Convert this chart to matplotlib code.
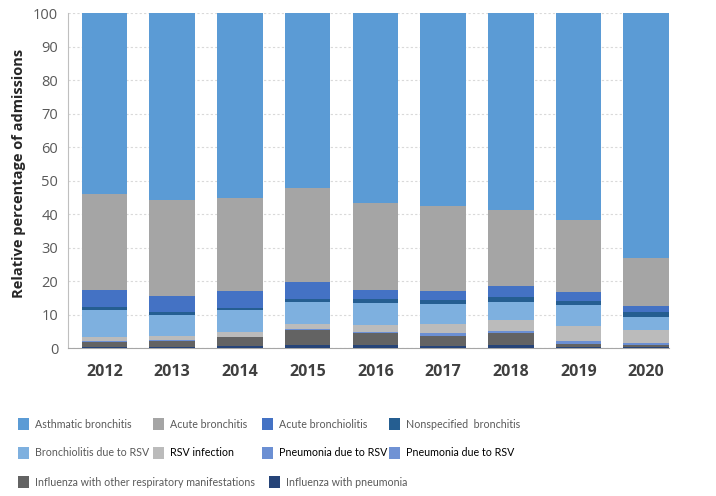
import numpy as np
import matplotlib
matplotlib.use("Agg")
import matplotlib.pyplot as plt
from matplotlib.patches import Rectangle

# === Data (% of admissions) ===
years = ["2012", "2013", "2014", "2015", "2016", "2017", "2018", "2019", "2020"]

influenza_pneumonia = [0.5, 0.4, 0.8, 1.1, 1.1, 0.8, 1.0, 0.4, 0.4]
influenza_other = [1.5, 1.9, 2.5, 4.3, 3.4, 3.0, 3.5, 0.9, 0.6]
pneumonia_rsv = [0.2, 0.3, 0.2, 0.4, 0.4, 0.7, 0.6, 0.9, 0.7]
pneumonia_rsv_2 = [0.0, 0.0, 0.0, 0.0, 0.0, 0.0, 0.0, 0.0, 0.0]
rsv_infection = [1.3, 1.0, 1.4, 1.5, 2.1, 2.8, 3.4, 4.5, 3.8]
bronchiolitis_rsv = [7.8, 6.2, 6.4, 6.6, 6.5, 5.9, 5.4, 6.2, 3.7]
nonspecified_bronchitis = [0.9, 0.9, 0.8, 0.8, 1.2, 1.3, 1.4, 1.1, 1.5]
acute_bronchiolitis = [5.3, 5.0, 5.1, 5.0, 2.8, 2.7, 3.2, 2.9, 1.8]
acute_bronchitis = [28.5, 28.5, 27.6, 28.1, 26.0, 25.2, 22.9, 21.3, 14.4]
asthmatic_bronchitis = [54.0, 55.8, 55.2, 52.2, 56.5, 57.6, 58.6, 61.8, 73.1]

# bottom -> top
series = [
    ("Influenza with pneumonia", influenza_pneumonia, "#264478"),
    ("Influenza with other respiratory manifestations", influenza_other, "#636363"),
    ("Pneumonia due to RSV", pneumonia_rsv, "#6B8FD3"),
    ("Pneumonia due to RSV", pneumonia_rsv_2, "#7092D4"),
    ("RSV infection", rsv_infection, "#BBBBBB"),
    ("Bronchiolitis due to RSV", bronchiolitis_rsv, "#7EB0DF"),
    ("Nonspecified  bronchitis", nonspecified_bronchitis, "#255E91"),
    ("Acute bronchiolitis", acute_bronchiolitis, "#4472C4"),
    ("Acute bronchitis", acute_bronchitis, "#A5A5A5"),
    ("Asthmatic bronchitis", asthmatic_bronchitis, "#5B9BD5"),
]

plt.rcParams["font.family"] = ["Open Sans", "DejaVu Sans"]

W, H = 716, 496
fig = plt.figure(figsize=(W / 100, H / 100), dpi=100)
ax = fig.add_axes([68 / W, (H - 348.3) / H, (669 - 68) / W, (348.3 - 13.3) / H])

x = np.arange(len(years))
bottom = np.zeros(len(years))
for name, vals, col in series:
    vals = np.array(vals)
    ax.bar(x, vals, width=0.674, bottom=bottom, color=col, linewidth=0, zorder=3)
    bottom += vals

ax.set_xlim(-0.539, 8.337)
ax.set_ylim(0, 100)
ax.set_yticks(np.arange(0, 101, 10))
ax.yaxis.grid(True, linestyle=(0, (2, 2)), color="#D9D9D9", linewidth=0.8, zorder=0)
ax.set_xticks(x)
ax.set_xticklabels(years, fontsize=11.5, fontweight="bold", color="#404040")
ax.tick_params(axis="x", length=0, pad=11)
ax.tick_params(axis="y", length=0, pad=7, labelsize=10.5, labelcolor="#595959")
for s in ["top", "right"]:
    ax.spines[s].set_visible(False)
ax.spines["left"].set_color("#BFBFBF")
ax.spines["bottom"].set_color("#A6A6A6")
ax.set_ylabel("Relative percentage of admissions", fontsize=10.5, fontweight="bold",
              color="#262626")
ax.yaxis.set_label_coords(-0.07, 0.523)

# === Legend (flow layout like the original) ===
legend_rows = [
    [("Asthmatic bronchitis", "#5B9BD5", "#595959", 18),
     ("Acute bronchitis", "#A5A5A5", "#595959", 153),
     ("Acute bronchiolitis", "#4472C4", "#595959", 262),
     ("Nonspecified  bronchitis", "#255E91", "#595959", 389)],
    [("Bronchiolitis due to RSV", "#7EB0DF", "#595959", 18),
     ("RSV infection", "#BBBBBB", "#000000", 153),
     ("Pneumonia due to RSV", "#6B8FD3", "#000000", 262),
     ("Pneumonia due to RSV", "#7092D4", "#000000", 389)],
    [("Influenza with other respiratory manifestations", "#636363", "#595959", 18),
     ("Influenza with pneumonia", "#264478", "#595959", 269)],
]
row_y = [424, 453, 482]
for row, yc in zip(legend_rows, row_y):
    for label, col, tcol, px in row:
        fig.add_artist(Rectangle((px / W, (H - yc - 6) / H), 11 / W, 12 / H,
                                 transform=fig.transFigure, color=col, linewidth=0))
        fig.text((px + 17) / W, (H - yc) / H, label, fontsize=7.7, color=tcol,
                 va="center", ha="left", family=["Lato", "DejaVu Sans"])

fig.savefig("out.png", dpi=100)
